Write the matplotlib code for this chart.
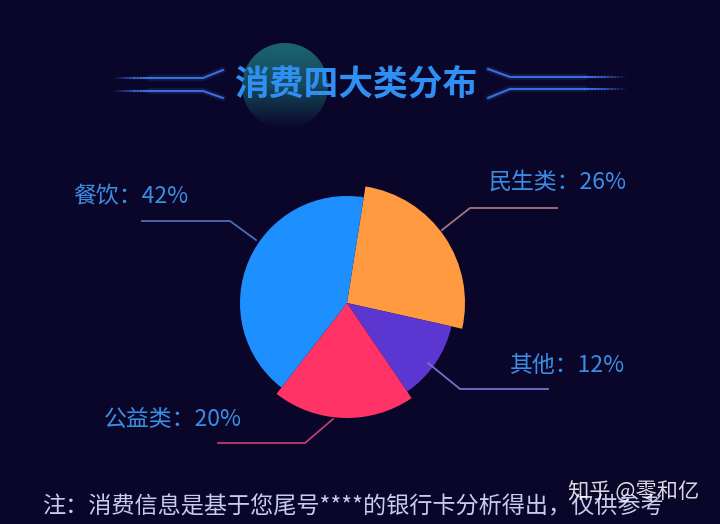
import matplotlib
matplotlib.use("Agg")
import matplotlib.pyplot as plt
import numpy as np
from matplotlib.patches import Circle
from matplotlib.colors import LinearSegmentedColormap

plt.rcParams['font.family'] = ['Noto Sans CJK SC', 'DejaVu Sans']

# ---- data ----
categories = ['民生类', '其他', '公益类', '餐饮']
values = [26, 12, 20, 42]
colors = ['#FF9A40', '#5C36D1', '#FF3366', '#1E8FFF']
line_colors = ['#a27682', '#7272cc', '#b8406e', '#4c6cb8']
title = '消费四大类分布'
note = '注：消费信息是基于您尾号****的银行卡分析得出，仅供参考'
watermark = '知乎 @零和亿'

# ---- layout (pixel coords, y from top) ----
W, H = 720, 524
BG = '#0a0629'
center_px = (347, 303)
radii = [118, 107, 115, 107]
label_pos = [(488, 182, 'left'), (510, 365, 'left'), (242, 420, 'right'), (73, 197, 'left')]
leaders = [
    [(442, 230), (470, 208), (557, 208)],
    [(428, 363), (460, 389), (548, 389)],
    [(333, 419), (305, 443), (218, 443)],
    [(256, 240), (230, 221), (142, 221)],
]

def Y(y):
    return H - y

fig = plt.figure(figsize=(W / 100, H / 100), dpi=100, facecolor=BG)
ax = fig.add_axes([0, 0, 1, 1])
ax.set_facecolor(BG)

# glowing teal circle behind title (vertical gradient, fading downward)
cx, cy, cr = 285, 86, 43
grad = np.linspace(1, 0, 100).reshape(-1, 1)
cmap = LinearSegmentedColormap.from_list('tealfade', [BG, '#15485a', '#1c6473'])
im = ax.imshow(grad, cmap=cmap, extent=(cx - cr, cx + cr, Y(cy + cr), Y(cy - cr)),
               origin='upper', aspect='auto', zorder=1, vmin=0, vmax=1)
clip = Circle((cx, Y(cy)), cr, transform=ax.transData)
im.set_clip_path(clip)

def glow_line(xs, ys, color='#3d74e6', lw=1.5):
    ax.plot(xs, ys, color=color, lw=lw * 3, alpha=0.15, solid_capstyle='round', zorder=2)
    ax.plot(xs, ys, color=color, lw=lw, alpha=0.95, solid_capstyle='round', zorder=3)

glow_line([150, 203, 223], [Y(78), Y(78), Y(70)])
glow_line([150, 203, 223], [Y(91), Y(91), Y(98)])
glow_line([488, 510, 585], [Y(69), Y(77), Y(77)])
glow_line([488, 510, 585], [Y(98), Y(89), Y(89)])
for (xa, xb, ys) in [(115, 150, [Y(78), Y(91)]), (585, 625, [Y(77), Y(89)])]:
    n = 12
    xs = np.linspace(xa, xb, n + 1)
    for i in range(n):
        a = (i + 1) / n if xa < 150 else 1 - i / n
        for yy in ys:
            ax.plot([xs[i], xs[i + 1]], [yy, yy], color='#3d74e6', lw=1.5, alpha=0.9 * a, zorder=3)

ax.text(356, Y(84), title, color='#2f8ff2', fontsize=25, fontweight='bold',
        ha='center', va='center', zorder=4)

# pie
wedges, _ = ax.pie(values, colors=colors, startangle=81, counterclock=False,
                   center=(center_px[0], Y(center_px[1])), radius=107,
                   wedgeprops=dict(linewidth=0), frame=True)
for w, r in zip(wedges, radii):
    w.set_radius(r)
    w.set_zorder(5)

for cat, v, (lx, ly, ha), pts, lc in zip(categories, values, label_pos, leaders, line_colors):
    xs = [p[0] for p in pts]
    ys = [Y(p[1]) for p in pts]
    ax.plot(xs, ys, color=lc, lw=1.3, zorder=6)
    ax.text(lx, Y(ly), f'{cat}：{v}%', color='#3a8ee6', fontsize=16.5,
            ha=ha, va='center', zorder=7)

ax.text(42, Y(507), note, color='#c6cdec', fontsize=16.7, ha='left', va='center', zorder=7)
ax.text(568, Y(492), watermark, color='#ffffff', alpha=0.85, fontsize=15.3,
        ha='left', va='center', zorder=8)

ax.set_xlim(0, W)
ax.set_ylim(0, H)
ax.set_aspect('equal')
ax.axis('off')

fig.savefig('out.png', dpi=100, facecolor=BG)
